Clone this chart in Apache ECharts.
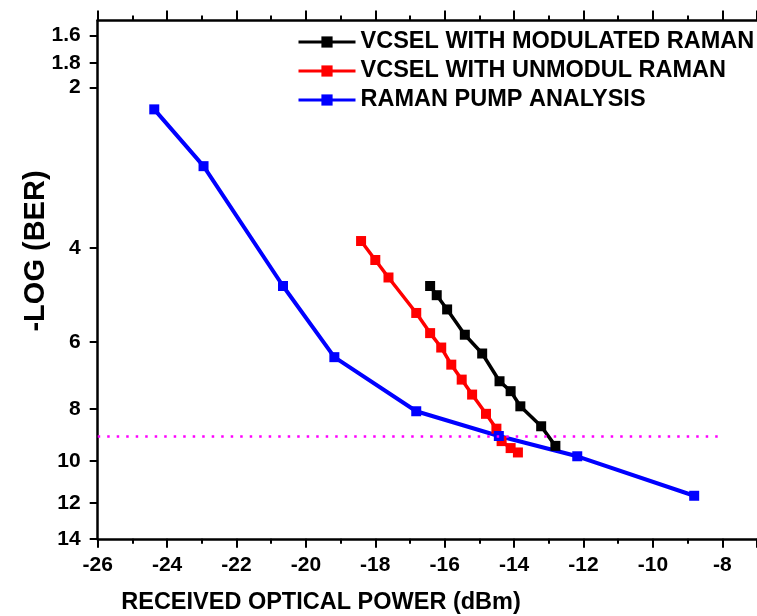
<!DOCTYPE html>
<html><head><meta charset="utf-8">
<script src="https://cdn.jsdelivr.net/npm/echarts@6/dist/echarts.min.js"></script>
<style>html,body{margin:0;padding:0;background:#fff}#c{width:757px;height:616px}</style>
</head><body><div id="c"></div>
<script>
const modX = [-16.42, -16.23, -15.93, -15.42, -14.92, -14.42, -14.10, -13.82, -13.22, -12.81];
const modY = [4.71, 4.90, 5.21, 5.81, 6.30, 7.10, 7.41, 7.91, 8.62, 9.38];
const unmodX = [-18.41, -18.00, -17.62, -16.82, -16.42, -16.10, -15.81, -15.51, -15.21, -14.81, -14.51, -14.36, -14.10, -13.89];
const unmodY = [3.88, 4.21, 4.54, 5.29, 5.77, 6.14, 6.61, 7.05, 7.52, 8.17, 8.71, 9.19, 9.47, 9.65];
const pumpX = [-24.37, -22.95, -20.66, -19.18, -16.82, -14.44, -12.18, -8.81];
const pumpY = [2.20, 2.81, 4.71, 6.40, 8.08, 8.99, 9.81, 11.63];
const yTickValues = [1.6, 1.8, 2, 4, 6, 8, 10, 12, 14];
const yTickLabels = ['1.6', '1.8', '2', '4', '6', '8', '10', '12', '14'];
const thresholdY = 9;
const seriesNames = ['VCSEL WITH MODULATED RAMAN', 'VCSEL WITH UNMODUL RAMAN', 'RAMAN PUMP ANALYSIS'];
const xTitle = 'RECEIVED OPTICAL POWER (dBm)';
const yTitle = '-LOG (BER)';

const FONT = '"Liberation Sans", Arial, sans-serif';
const L = Math.log10;
const pairs = (xs, ys) => xs.map((x, i) => [x, L(ys[i])]);
const yTickLog = yTickValues.map(L);

const axisLine = { show: true, onZero: false, lineStyle: { color: '#000', width: 2.5 } };

const chart = echarts.init(document.getElementById('c'), null, { renderer: 'canvas' });
chart.setOption({
  animation: false,
  backgroundColor: '#fff',
  grid: { left: 97.7, right: -2, top: 20.5, bottom: 77.2, containLabel: false },
  legend: {
    orient: 'vertical', left: 297, top: 30, padding: 0,
    itemWidth: 57, itemHeight: 14, itemGap: 5,
    data: seriesNames,
    lineStyle: { width: 3 },
    textStyle: { fontFamily: FONT, fontWeight: 'bold', fontSize: 23.5, color: '#000' }
  },
  xAxis: [{
    type: 'value', position: 'bottom', min: -26, max: -7, interval: 2,
    axisLine: axisLine,
    axisTick: { show: true, length: 9, lineStyle: { color: '#000', width: 2 } },
    minorTick: { show: true, splitNumber: 2, length: 5, lineStyle: { color: '#000', width: 2 } },
    axisLabel: { show: true, showMaxLabel: false, margin: 16, color: '#000', fontFamily: FONT, fontWeight: 'bold', fontSize: 21 },
    splitLine: { show: false }
  }, {
    type: 'value', position: 'top', min: -26, max: -7, interval: 2,
    axisLine: axisLine,
    axisTick: { show: true, length: 10, lineStyle: { color: '#000', width: 2 } },
    minorTick: { show: true, splitNumber: 2, length: 5, lineStyle: { color: '#000', width: 2 } },
    axisLabel: { show: false },
    splitLine: { show: false }
  }],
  yAxis: {
    type: 'value', inverse: true, min: L(1.5), max: L(14),
    axisLine: axisLine,
    axisTick: { show: true, length: 8, customValues: yTickLog, lineStyle: { color: '#000', width: 2 } },
    axisLabel: {
      show: true, customValues: yTickLog, margin: 17, color: '#000',
      fontFamily: FONT, fontWeight: 'bold', fontSize: 21,
      formatter: function (v) {
        for (let i = 0; i < yTickLog.length; i++) if (Math.abs(yTickLog[i] - v) < 1e-6) return yTickLabels[i];
        return '';
      }
    },
    splitLine: { show: false }
  },
  graphic: [
    { type: 'text', x: 321, y: 603, style: { text: xTitle, fill: '#000', font: 'bold 23.5px ' + FONT, textAlign: 'center', textVerticalAlign: 'middle' } },
    { type: 'text', x: 36, y: 251, rotation: Math.PI / 2, style: { text: yTitle, fill: '#000', font: 'bold 29px ' + FONT, textAlign: 'center', textVerticalAlign: 'middle' } }
  ],
  series: [
    { name: seriesNames[0], type: 'line', data: pairs(modX, modY), symbol: 'rect', symbolSize: 10,
      lineStyle: { color: '#000', width: 3.5 }, itemStyle: { color: '#000' } },
    { name: seriesNames[1], type: 'line', data: pairs(unmodX, unmodY), symbol: 'rect', symbolSize: 10,
      lineStyle: { color: '#ff0000', width: 3.5 }, itemStyle: { color: '#ff0000' } },
    { name: seriesNames[2], type: 'line', data: pairs(pumpX, pumpY), symbol: 'rect', symbolSize: 10,
      lineStyle: { color: '#0000ff', width: 4 }, itemStyle: { color: '#0000ff' },
      markLine: {
        silent: true, symbol: ['none', 'none'], label: { show: false },
        lineStyle: { color: '#ff00ff', width: 2.5, type: [2.5, 7] },
        data: [[{ coord: [-26, L(thresholdY)] }, { coord: [-8, L(thresholdY)] }]]
      } }
  ]
});
</script>
</body></html>
